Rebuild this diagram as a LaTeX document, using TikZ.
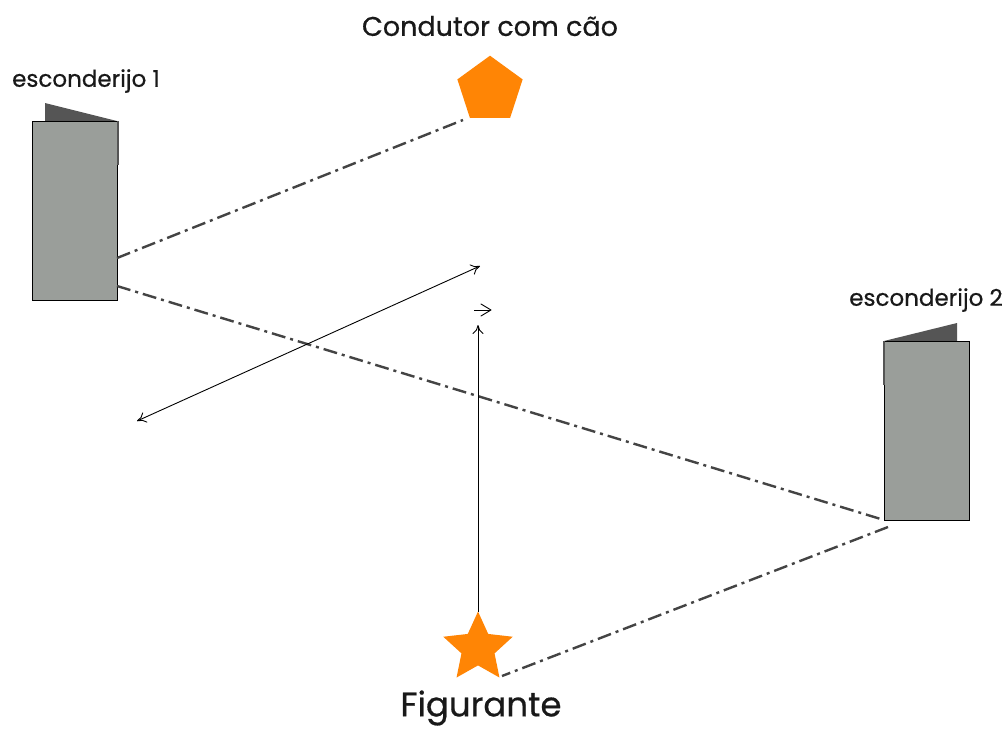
\documentclass[tikz,border=0pt]{standalone}
\usepackage{fontspec}
\setmainfont{Poppins}[FakeBold=0.6]
\usetikzlibrary{shapes.geometric,arrows.meta}
\definecolor{hide}{HTML}{9A9E9A}
\definecolor{flap}{HTML}{555555}
\definecolor{orng}{HTML}{FF8505}
\definecolor{dd}{HTML}{444444}
\tikzset{
  hidebox/.style={draw=black,line width=1.4pt,fill=hide,minimum width=85pt,minimum height=179pt,inner sep=0pt,anchor=north west},
  flapfill/.style={fill=flap,draw=none},
  ddline/.style={draw=dd,line width=2.4pt,dash pattern=on 14pt off 5pt on 3pt off 5pt},
  tipstyle/.style={To[length=9pt,width=11pt]},
  mvarrow/.style={draw=black,line width=0.9pt,-{To[length=9pt,width=11pt]}},
  lbl/.style={font=\fontsize{23}{24}\selectfont,text=black!90,inner sep=0pt},
}
\begin{document}
\begin{tikzpicture}[x=1pt,y=-1pt]
\useasboundingbox[fill=white] (0,0) rectangle (1008,729);
% hiding places
\fill[flapfill] (45,103) -- (117,121) -- (45,121) -- cycle;
\node[hidebox] (e1) at (32,121) {};
\draw[flap,line width=2.5pt] (118,121) -- (118,165);
\fill[flapfill] (884,341) -- (957,323) -- (957,341) -- cycle;
\node[hidebox] (e2) at (884,341) {};
\draw[flap,line width=2.5pt] (884,341) -- (884,385);
\node[lbl] (l1) at (86,81) {esconderijo 1};
\node[lbl] (l2) at (926,300) {esconderijo 2};
% handler
\node[regular polygon,regular polygon sides=5,fill=orng,minimum size=68.6pt,inner sep=0pt] (pent) at (490,90) {};
\node[lbl,font=\fontsize{27}{29}\selectfont] (lc) at (490,26) {Condutor com cão};
% figurant
\node[star,star points=5,star point ratio=2.1,fill=orng,minimum size=73pt,inner sep=0pt] (fig) at (478,648) {};
\node[lbl,font=\fontsize{34}{36}\selectfont] (lf) at (481,708) {Figurante};
% coordinates
\coordinate (a1) at (117,258);
\coordinate (a2) at (463,120);
\coordinate (b1) at (117,286);
\coordinate (b2) at (884,520);
\coordinate (c1) at (888,527);
\coordinate (c2) at (502,676);
\draw[ddline] (a1) -- (a2);
\draw[ddline] (b1) -- (b2);
\draw[ddline] (c1) -- (c2);
% movement arrows
\coordinate (m1) at (137,421);
\coordinate (m2) at (480,266);
\draw[mvarrow,{To[length=9pt,width=11pt]}-{To[length=9pt,width=11pt]}] (m1) -- (m2);
\coordinate (v1) at (478,612);
\coordinate (v2) at (478,325);
\draw[mvarrow] (v1) -- (v2);
\coordinate (t1) at (491,310);
\draw[black,line width=0.9pt,line cap=round,line join=round] ([shift={(-10,-6)}]t1) -- (t1) -- ([shift={(-10,6)}]t1);
\draw[black,line width=0.9pt] ([xshift=-17pt]t1) -- ([xshift=-1pt]t1);
\end{tikzpicture}
\end{document}
